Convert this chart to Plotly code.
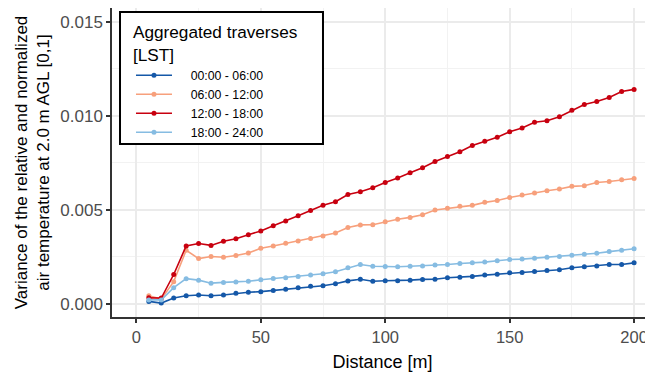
import plotly.graph_objects as go

distance = [5, 10, 15, 20, 25, 30, 35, 40, 45, 50, 55, 60, 65, 70, 75, 80, 85, 90, 95, 100,
            105, 110, 115, 120, 125, 130, 135, 140, 145, 150, 155, 160, 165, 170, 175, 180, 185, 190, 195, 200]

series_names = ["00:00 - 06:00", "06:00 - 12:00", "12:00 - 18:00", "18:00 - 24:00"]

v_00_06 = [0.00012, 0.00003, 0.00030, 0.00042, 0.00046, 0.00042, 0.00046, 0.00055, 0.00061, 0.00064,
           0.00070, 0.00077, 0.00085, 0.00092, 0.00095, 0.00106, 0.00121, 0.00130, 0.00119, 0.00122,
           0.00122, 0.00125, 0.00129, 0.00130, 0.00138, 0.00140, 0.00145, 0.00152, 0.00157, 0.00164,
           0.00166, 0.00171, 0.00177, 0.00180, 0.00191, 0.00196, 0.00201, 0.00208, 0.00208, 0.00217]
v_06_12 = [0.00042, 0.00024, 0.00117, 0.00284, 0.00240, 0.00251, 0.00247, 0.00256, 0.00269, 0.00295,
           0.00307, 0.00321, 0.00334, 0.00346, 0.00360, 0.00376, 0.00405, 0.00419, 0.00420, 0.00436,
           0.00449, 0.00459, 0.00473, 0.00498, 0.00507, 0.00518, 0.00523, 0.00539, 0.00549, 0.00565,
           0.00578, 0.00589, 0.00601, 0.00610, 0.00624, 0.00627, 0.00645, 0.00650, 0.00659, 0.00666]
v_12_18 = [0.00031, 0.00030, 0.00155, 0.00307, 0.00320, 0.00310, 0.00332, 0.00345, 0.00367, 0.00387,
           0.00415, 0.00440, 0.00468, 0.00496, 0.00523, 0.00542, 0.00581, 0.00595, 0.00617, 0.00645,
           0.00668, 0.00696, 0.00723, 0.00756, 0.00783, 0.00808, 0.00841, 0.00864, 0.00885, 0.00915,
           0.00935, 0.00965, 0.00973, 0.00994, 0.01029, 0.01060, 0.01076, 0.01097, 0.01129, 0.01140]
v_18_24 = [0.00020, 0.00020, 0.00085, 0.00133, 0.00125, 0.00109, 0.00113, 0.00115, 0.00119, 0.00127,
           0.00134, 0.00138, 0.00145, 0.00152, 0.00159, 0.00170, 0.00191, 0.00208, 0.00199, 0.00198,
           0.00196, 0.00199, 0.00201, 0.00205, 0.00208, 0.00214, 0.00217, 0.00221, 0.00228, 0.00235,
           0.00237, 0.00242, 0.00247, 0.00251, 0.00258, 0.00263, 0.00268, 0.00277, 0.00284, 0.00292]

x_ticks = [0, 50, 100, 150, 200]
y_ticks = [0.000, 0.005, 0.010, 0.015]
y_tick_labels = ["0.000", "0.005", "0.010", "0.015"]

colors = ["#1558a8", "#F7A07C", "#C8000F", "#86BCE2"]
values = [v_00_06, v_06_12, v_12_18, v_18_24]

FONT = "Liberation Sans, Arial, sans-serif"
PAD = "\u00a0" * 4  # visual gap between legend key and label

fig = go.Figure()
for name, vals, col in zip(series_names, values, colors):
    fig.add_trace(go.Scatter(
        x=distance, y=vals, name=PAD + name, mode="lines+markers",
        line=dict(color=col, width=1.6),
        marker=dict(color=col, size=5),
    ))

grid_major = "#EBEBEB"
grid_minor = "#F2F2F2"

# legend frame (layout decoration, paper coordinates)
fig.add_shape(type="rect", xref="paper", yref="paper",
              x0=0.0148, x1=0.390, y0=0.560, y1=0.987,
              line=dict(color="black", width=2), fillcolor="white", layer="above")

# page body has an 8px margin; figure is sized so the panel fills the window like the reference
fig.update_layout(
    width=645, height=369,
    margin=dict(l=104, r=0, t=0, b=60),
    paper_bgcolor="white", plot_bgcolor="white",
    font=dict(family=FONT, color="black"),
    showlegend=True,
    legend=dict(
        x=0.0351, y=0.974, xanchor="left", yanchor="top",
        bgcolor="rgba(0,0,0,0)", borderwidth=0,
        title=dict(text="Aggregated traverses<br>[LST]",
                   font=dict(size=17.2, family=FONT, color="black")),
        font=dict(size=12.3, family=FONT, color="black"),
        itemwidth=36,
        tracegroupgap=0,
    ),
    xaxis=dict(
        range=[-9.8, 207.6], tickvals=x_ticks, ticktext=[str(t) for t in x_ticks],
        automargin=False,
        showgrid=True, gridcolor=grid_major, gridwidth=2,
        minor=dict(dtick=25, tick0=0, showgrid=True, gridcolor=grid_minor, gridwidth=1),
        zeroline=False,
        showline=True, linecolor="#333333", linewidth=1.5, mirror=True,
        ticks="outside", ticklen=4, tickcolor="#333333", tickwidth=1.5,
        tickfont=dict(size=16.5, color="#4D4D4D", family=FONT),
        title=dict(text="Distance [m]", font=dict(size=18, family=FONT, color="black"), standoff=11),
    ),
    yaxis=dict(
        range=[-0.00071, 0.01573], tickvals=y_ticks, ticktext=y_tick_labels,
        automargin=False,
        showgrid=True, gridcolor=grid_major, gridwidth=2,
        minor=dict(dtick=0.0025, tick0=0, showgrid=True, gridcolor=grid_minor, gridwidth=1),
        zeroline=False,
        showline=True, linecolor="#333333", linewidth=1.5,
        ticks="outside", ticklen=4, tickcolor="#333333", tickwidth=1.5,
        tickfont=dict(size=17, color="#4D4D4D", family=FONT),
        title=dict(text="Variance of the relative and normalized<br>air temperature at 2.0 m AGL [0,1]",
                   font=dict(size=17, family=FONT, color="black"), standoff=6),
    ),
)

fig.write_html("out.html")
